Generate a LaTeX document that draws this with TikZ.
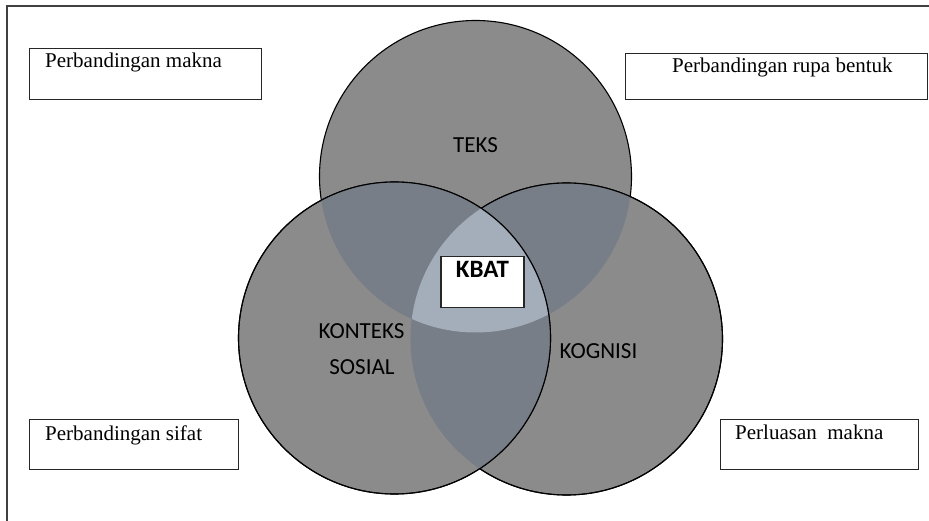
\documentclass[tikz,border=0pt]{standalone}
\usepackage{fontspec}
\setmainfont{Liberation Serif}
\newfontfamily\lblfont{Carlito}
\usepackage{tikz}
\usetikzlibrary{positioning}
\definecolor{setgray}{HTML}{8B8B8B}
\definecolor{pairgray}{HTML}{777E88}
\definecolor{coregray}{HTML}{A4ADBA}
\tikzstyle{infobox}=[draw=black!85, line width=1.3pt, fill=white, inner sep=0pt, anchor=north west]
\tikzstyle{boxtext}=[inner sep=0pt, anchor=base west, font=\fontsize{21}{25}\selectfont]

\begin{document}
\begin{tikzpicture}[x=1pt, y=-1pt,
                    venn/.style={fill=setgray, draw=black, line width=1.1pt},
                    setlabel/.style={inner sep=0pt, anchor=base, font=\lblfont\fontsize{23}{28}\selectfont}]
    \useasboundingbox (0,0) rectangle (929,521);
    \draw[line width=1.8pt, black!75] (7,521) -- (7,6) -- (929,6);
    % centres of the three sets
    \coordinate (teks) at (475.5,176.5);
    \coordinate (sosial) at (394.5,338);
    \coordinate (kognisi) at (566.5,339);
    \draw[venn] (teks) circle (156);
    \draw[venn] (kognisi) circle (156);
    \begin{scope}
      \clip (teks) circle (156);
      \fill[pairgray] (kognisi) circle (156);
    \end{scope}
    \draw[line width=1.1pt] (kognisi) circle (156);
    \draw[venn] (sosial) circle (156);
    \begin{scope}
      \clip (sosial) circle (156);
      \fill[pairgray] (teks) circle (156);
      \fill[pairgray] (kognisi) circle (156);
      \clip (teks) circle (156);
      \fill[coregray] (kognisi) circle (156);
    \end{scope}
    \draw[line width=1.1pt] (sosial) circle (156);
    % labels of the sets
    \node[setlabel] (teksL) at (475.5,153) {TEKS};
    \node[setlabel] (konteksL) at (361.5,338) {KONTEKS};
    \node[setlabel] (sosialL) at (362,374) {SOSIAL};
    \node[setlabel] (kognisiL) at (598.5,358) {KOGNISI};
    \node[draw=black!85, fill=white, line width=1.2pt, inner sep=0pt,
          text height=21, text depth=30, minimum width=83,
          font=\lblfont\bfseries\fontsize{25}{30}\selectfont] (kbat) at (482.5,282) {KBAT};
    % the four corner boxes
    \node[infobox, minimum width=232, minimum height=51] (makna) at (29,48) {};
    \node[boxtext] (maknaT) at (45,68) {Perbandingan makna};
    \node[infobox, minimum width=302, minimum height=46] (rupa) at (625,53) {};
    \node[boxtext] (rupaT) at (672,73) {Perbandingan rupa bentuk};
    \node[infobox, minimum width=209, minimum height=50] (sifat) at (29,419) {};
    \node[boxtext] (sifatT) at (45,440) {Perbandingan sifat};
    \node[infobox, minimum width=198, minimum height=50] (luas) at (720,419) {};
    \node[boxtext] (luasT) at (735,439) {Perluasan\ \ makna};
\end{tikzpicture}
\end{document}
